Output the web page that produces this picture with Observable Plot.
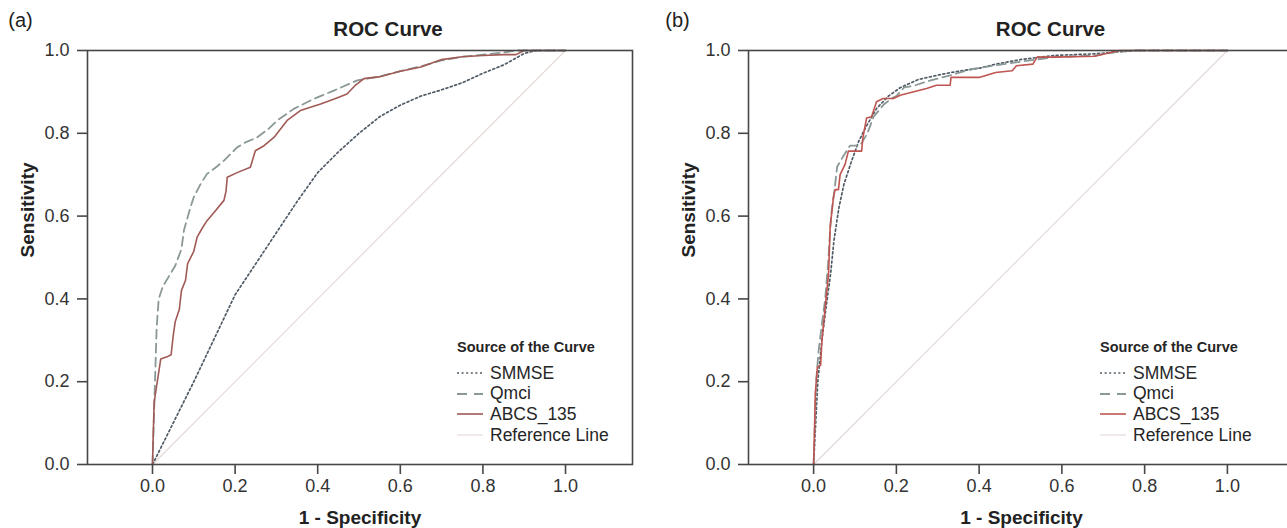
<!DOCTYPE html>
<html><head><meta charset="utf-8">
<script src="https://cdn.jsdelivr.net/npm/d3@7"></script>
<script src="https://cdn.jsdelivr.net/npm/@observablehq/plot@0.6"></script>
<style>
html,body{margin:0;padding:0;background:#fff;overflow:hidden}
#wrap{position:relative;width:1287px;height:528px;overflow:hidden;font-family:"Liberation Sans",Arial,sans-serif;color:#222}
.panel{position:absolute;top:0}
.legend{position:absolute;font-family:"Liberation Sans",Arial,sans-serif;color:#262626}
.legend .ttl{font-weight:bold;font-size:14.5px;white-space:nowrap;height:20px;line-height:20px}
.legend .row{display:flex;align-items:center;height:20.6px;white-space:nowrap;font-size:17.5px}
.legend svg{margin-right:7px;flex:none}
</style></head><body><div id="wrap"></div><script>
// ---------- data: [1 - Specificity, Sensitivity] ----------
const SERIES = ["SMMSE", "Qmci", "ABCS_135", "Reference Line"];
const X_TICKS = [0, 0.2, 0.4, 0.6, 0.8, 1.0];
const Y_TICKS = [0, 0.2, 0.4, 0.6, 0.8, 1.0];
const REF = [[0, 0], [1, 1]];

// Panel (a)
const SMMSE_A = [[0,0],[0.05,0.1],[0.1,0.2],[0.15,0.305],[0.2,0.41],[0.25,0.485],[0.3,0.56],[0.35,0.635],[0.4,0.705],[0.45,0.755],[0.5,0.8],[0.55,0.84],[0.6,0.868],[0.65,0.89],[0.7,0.905],[0.75,0.922],[0.8,0.945],[0.85,0.965],[0.9,0.993],[0.93,1],[1,1]];
const QMCI_A = [[0,0],[0.003,0.1],[0.006,0.2],[0.01,0.33],[0.015,0.4],[0.025,0.43],[0.04,0.455],[0.055,0.48],[0.07,0.52],[0.076,0.565],[0.09,0.615],[0.1,0.646],[0.115,0.675],[0.132,0.702],[0.15,0.715],[0.173,0.734],[0.205,0.766],[0.225,0.778],[0.253,0.79],[0.28,0.81],[0.302,0.831],[0.342,0.859],[0.39,0.883],[0.439,0.903],[0.496,0.928],[0.55,0.937],[0.6,0.95],[0.65,0.962],[0.7,0.976],[0.75,0.985],[0.8,0.99],[0.85,0.995],[0.88,1],[1,1]];
const ABCS_A = [[0,0],[0.002,0.08],[0.004,0.15],[0.01,0.19],[0.02,0.255],[0.035,0.26],[0.045,0.265],[0.05,0.31],[0.055,0.345],[0.065,0.375],[0.07,0.42],[0.08,0.445],[0.085,0.485],[0.1,0.515],[0.108,0.549],[0.12,0.57],[0.132,0.589],[0.15,0.61],[0.173,0.638],[0.178,0.66],[0.181,0.694],[0.205,0.705],[0.237,0.718],[0.249,0.758],[0.27,0.77],[0.294,0.79],[0.326,0.831],[0.358,0.855],[0.407,0.871],[0.44,0.883],[0.471,0.895],[0.49,0.915],[0.512,0.932],[0.552,0.937],[0.6,0.95],[0.65,0.96],[0.7,0.978],[0.75,0.985],[0.8,0.988],[0.85,0.99],[0.88,0.99],[0.9,1],[1,1]];

// Panel (b)
const SMMSE_B = [[0,0],[0.005,0.1],[0.01,0.2],[0.02,0.3],[0.03,0.38],[0.041,0.46],[0.049,0.54],[0.061,0.62],[0.073,0.676],[0.089,0.725],[0.109,0.781],[0.129,0.82],[0.153,0.861],[0.181,0.89],[0.209,0.91],[0.253,0.93],[0.302,0.941],[0.35,0.95],[0.4,0.957],[0.44,0.967],[0.5,0.978],[0.58,0.988],[0.68,0.992],[0.78,1],[1,1]];
const QMCI_B = [[0,0],[0.003,0.1],[0.006,0.2],[0.012,0.274],[0.02,0.34],[0.028,0.4],[0.035,0.485],[0.042,0.6],[0.05,0.66],[0.057,0.72],[0.075,0.75],[0.088,0.77],[0.112,0.77],[0.13,0.8],[0.145,0.84],[0.17,0.87],[0.19,0.885],[0.2,0.89],[0.219,0.911],[0.243,0.915],[0.283,0.928],[0.33,0.94],[0.38,0.955],[0.48,0.97],[0.58,0.984],[0.68,0.988],[0.73,0.996],[0.78,1],[1,1]];
const ABCS_B = [[0,0],[0.002,0.08],[0.004,0.17],[0.009,0.235],[0.017,0.24],[0.02,0.3],[0.028,0.38],[0.036,0.46],[0.04,0.573],[0.048,0.646],[0.052,0.664],[0.06,0.664],[0.064,0.7],[0.076,0.725],[0.084,0.757],[0.116,0.757],[0.119,0.789],[0.128,0.837],[0.14,0.84],[0.152,0.876],[0.168,0.884],[0.193,0.884],[0.209,0.892],[0.273,0.908],[0.297,0.916],[0.33,0.916],[0.332,0.935],[0.4,0.935],[0.44,0.947],[0.48,0.951],[0.49,0.963],[0.53,0.967],[0.54,0.984],[0.58,0.984],[0.68,0.986],[0.72,0.996],[0.74,1],[1,1]];

// ---------- styles ----------
const FONT = "'Liberation Sans', Arial, Helvetica, sans-serif";
const AXIS = "#474747";
const STYLE = {
  SMMSE: {stroke: "#505b66", strokeWidth: 1.7, strokeDasharray: "2,2.6"},
  Qmci: {stroke: "#8a9896", strokeWidth: 1.8, strokeDasharray: "9,5"},
  ABCS_135: {stroke: "#a35a55", strokeWidth: 1.6, strokeDasharray: null},
  "Reference Line": {stroke: "#e6d7d7", strokeWidth: 1.1, strokeDasharray: null}
};

const wrap = document.getElementById("wrap");

function panel(cfg) {
  const acc = {x: d => d[0], y: d => d[1]};
  const lineMark = (data, name, extra = {}) =>
    Plot.line(data, {...acc, ...STYLE[name], ...extra});
  const chart = Plot.plot({
    width: cfg.width,
    height: 528,
    marginLeft: cfg.marginLeft,
    marginRight: cfg.marginRight,
    marginTop: 50,
    marginBottom: 64,
    x: {domain: [-0.1574, 1.1622]},
    y: {domain: [0, 1]},
    style: {fontFamily: FONT, background: "transparent", color: "#2a2a2a", overflow: "visible"},
    marks: [
      lineMark(REF, "Reference Line"),
      lineMark(cfg.smmse, "SMMSE"),
      lineMark(cfg.qmci, "Qmci"),
      lineMark(cfg.abcs, "ABCS_135", {stroke: cfg.abcsColor}),
      Plot.frame({stroke: AXIS, strokeWidth: 1.6}),
      Plot.axisX({ticks: X_TICKS, tickFormat: d => d.toFixed(1), tickSize: 10, tickPadding: 5,
        fontSize: 18, label: null, stroke: AXIS, strokeWidth: 1.6, fill: "#333"}),
      Plot.axisY({ticks: Y_TICKS, tickFormat: d => d.toFixed(1), tickSize: 10, tickPadding: 8,
        fontSize: 18, label: null, stroke: AXIS, strokeWidth: 1.6, fill: "#333"}),
      Plot.text(["ROC Curve"], {frameAnchor: "top", dx: cfg.titleDx, dy: -21, fontSize: 20.5,
        fontWeight: "bold", lineAnchor: "middle", fill: "#222"}),
      Plot.text([cfg.tag], {frameAnchor: "top-left", dx: cfg.tagDx, dy: -30, fontSize: 20,
        textAnchor: "middle", lineAnchor: "middle", fill: "#222"}),
      Plot.text(["Sensitivity"], {frameAnchor: "left", dx: -60, rotate: -90, fontSize: 19,
        fontWeight: "bold", lineAnchor: "middle", fill: "#222"}),
      Plot.text(["1 - Specificity"], {frameAnchor: "bottom", dy: 53, fontSize: 19,
        fontWeight: "bold", lineAnchor: "middle", fill: "#222"})
    ]
  });
  chart.classList.add("panel");
  chart.style.left = cfg.left + "px";
  wrap.appendChild(chart);

  // legend
  const lg = document.createElement("div");
  lg.className = "legend";
  lg.style.left = cfg.legendLeft + "px";
  lg.style.top = "337px";
  const t = document.createElement("div");
  t.className = "ttl";
  t.textContent = "Source of the Curve";
  lg.appendChild(t);
  const ns = "http://www.w3.org/2000/svg";
  SERIES.forEach((name, i) => {
    const row = document.createElement("div");
    row.className = "row";
    if (i === 0) row.style.marginTop = "6px";
    const s = document.createElementNS(ns, "svg");
    s.setAttribute("width", 26); s.setAttribute("height", 10);
    const l = document.createElementNS(ns, "line");
    l.setAttribute("x1", 0); l.setAttribute("x2", 26); l.setAttribute("y1", 5); l.setAttribute("y2", 5);
    const st = STYLE[name];
    l.setAttribute("stroke", name === "ABCS_135" ? cfg.abcsColor : st.stroke);
    l.setAttribute("stroke-width", st.strokeWidth);
    if (name === "Qmci") l.setAttribute("stroke-dasharray", "10,7");
    else if (st.strokeDasharray) l.setAttribute("stroke-dasharray", st.strokeDasharray);
    s.appendChild(l);
    row.appendChild(s);
    const sp = document.createElement("span");
    sp.textContent = name;
    row.appendChild(sp);
    lg.appendChild(row);
  });
  wrap.appendChild(lg);
}

panel({left: 0, width: 640, marginLeft: 87, marginRight: 8, tag: "(a)", tagDx: -67, titleDx: 28,
  smmse: SMMSE_A, qmci: QMCI_A, abcs: ABCS_A, abcsColor: "#a05a55", legendLeft: 457});
panel({left: 640, width: 660, marginLeft: 108, marginRight: 6, tag: "(b)", tagDx: -71, titleDx: 29,
  smmse: SMMSE_B, qmci: QMCI_B, abcs: ABCS_B, abcsColor: "#bf5550", legendLeft: 1100});
</script></body></html>
